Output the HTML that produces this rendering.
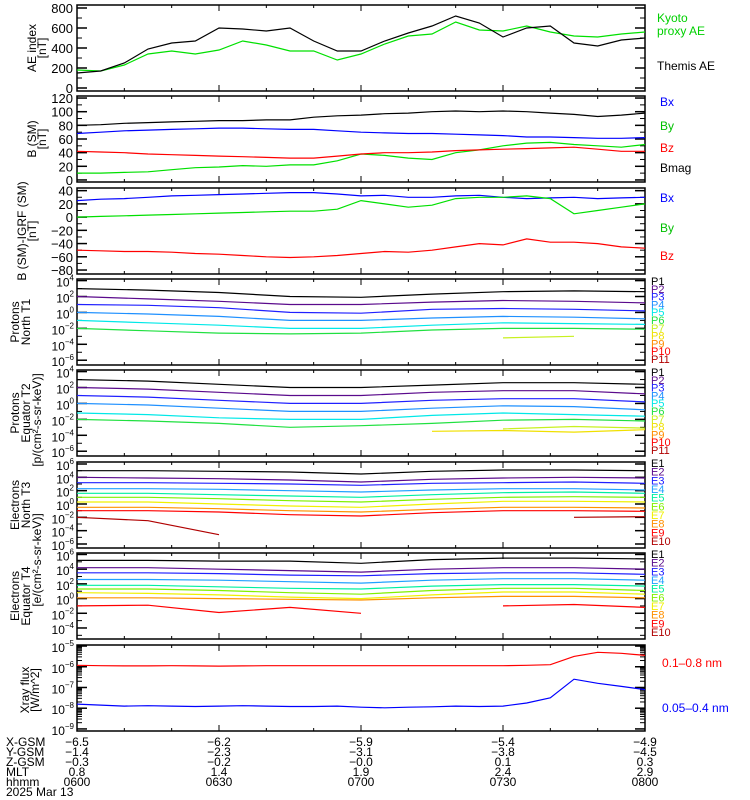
<!DOCTYPE html>
<html><head><meta charset="utf-8"><style>
html,body{margin:0;padding:0;background:#fff}
svg{display:block;font-family:"Liberation Sans",sans-serif}
</style></head><body>
<svg id="chart" width="750" height="800" viewBox="0 0 750 800" xmlns="http://www.w3.org/2000/svg"></svg>
<script>
// ---------- data ----------
const timeTicks = ["0600","0630","0700","0730","0800"];
const xgsm = ["-6.5","-6.2","-5.9","-5.4","-4.9"];
const ygsm = ["-1.4","-2.3","-3.1","-3.8","-4.5"];
const zgsm = ["-0.3","-0.2","-0.0","0.1","0.3"];
const mlt = ["0.8","1.4","1.9","2.4","2.9"];
// 5-minute samples 0600..0800
const aeThemis = [150,170,250,390,450,470,600,590,570,600,470,370,370,470,550,620,720,650,510,600,620,450,420,480,500];
const aeKyoto = [180,170,230,340,370,340,380,470,430,370,370,280,340,440,520,540,660,580,570,620,560,520,510,540,560];
const bBmag = [80,81,83,84,85,86,87,87,88,88,92,94,95,97,98,100,101,100,101,100,98,96,93,95,98];
const bBx = [68,70,72,73,74,75,76,76,75,74,74,72,70,69,68,68,67,66,65,63,63,62,61,61,62];
const bBy = [10,10,11,12,15,18,19,21,20,22,22,28,38,36,32,30,40,44,50,54,55,52,50,48,52];
const bBz = [42,41,40,38,37,36,35,34,33,32,32,35,38,40,40,41,43,44,45,46,47,48,45,42,42];
const dBx = [25,27,28,30,32,33,34,35,36,37,37,35,32,33,30,30,32,33,30,28,29,30,28,29,30];
const dBy = [0,1,2,3,4,5,6,7,8,9,9,12,25,20,15,18,28,30,30,32,28,5,10,15,20];
const dBz = [-50,-51,-52,-52,-53,-55,-56,-58,-60,-61,-60,-58,-55,-52,-53,-50,-45,-40,-42,-33,-38,-38,-40,-45,-47];
const xrayLong = [-5.93,-5.95,-5.96,-5.96,-5.95,-5.96,-5.97,-5.96,-5.95,-5.95,-5.95,-5.95,-5.95,-5.95,-5.95,-5.95,-5.95,-5.95,-5.95,-5.93,-5.9,-5.5,-5.3,-5.35,-5.45];
const xrayShort = [-7.8,-7.85,-7.9,-7.88,-7.9,-7.92,-7.9,-7.88,-7.9,-7.92,-7.92,-7.9,-7.95,-7.98,-7.95,-7.93,-7.9,-7.92,-7.9,-7.75,-7.5,-6.6,-6.8,-6.95,-7.1];
// 15-minute samples (log10 flux)
const protonsNorth = [
 [3,2.8,2.5,2,1.9,2.3,2.6,2.7,2.6],
 [2,1.7,1.4,1,1,1.3,1.5,1.4,1.2],
 [1,0.9,0.6,0,-0.1,0.4,0.5,0.4,0.2],
 [0,-0.2,-0.5,-1,-1,-0.7,-0.5,-0.6,-0.8],
 [-1,-1.3,-1.6,-2,-2,-1.6,-1.3,-1.4,-1.5],
 [-2,-2.3,-2.6,-2.7,-2.6,-2.2,-2,-2,-2.1],
 [null,null,null,null,null,null,-3.2,-3.0,null]
];
const protonsEq = [
 [3,2.8,2.4,2,2,2.3,2.6,2.6,2.4],
 [2,1.8,1.4,1,1,1.4,1.6,1.6,1.2],
 [1,0.8,0.4,0,0,0.4,0.6,0.6,0.2],
 [0,-0.2,-0.6,-1,-1,-0.6,-0.3,-0.4,-0.8],
 [-1.2,-1.4,-1.8,-2,-2,-1.5,-1.2,-1.4,-1.6],
 [-2,-2.2,-2.5,-3,-2.8,-2.5,-2.1,-2,-2.2],
 [null,null,null,null,null,null,-3.2,-2.9,-3.1],
 [null,null,null,null,null,-3.5,-3.4,-3.6,-3.3]
];
const electronsNorth = [
 [5,5,4.9,4.8,4.5,4.9,5.1,5.1,5],
 [4,3.9,3.8,3.6,3.3,3.7,3.9,4,3.9],
 [3.2,3.2,3.1,3,2.8,3.1,3.2,3.3,3.1],
 [2.3,2.3,2.2,2,1.8,2.1,2.3,2.3,2.1],
 [1.6,1.6,1.4,1.2,1,1.4,1.7,1.8,1.6],
 [1,1,0.8,0.5,0.3,0.7,1,1.1,1],
 [0.3,0.3,0,-0.3,-0.5,0,0.4,0.4,0.3],
 [-0.5,-0.5,-0.7,-1,-1.2,-0.8,-0.5,-0.5,-0.6],
 [-1,-1,-1.2,-1.6,-1.8,-1.3,-1,-1,-1.1],
 [-2,-2.5,-4.6,null,null,null,null,-2,-1.9]
];
const electronsEq = [
 [5.2,5.2,5.1,5.1,4.8,5.3,5.5,5.5,5.4],
 [4.2,4.2,4,3.8,3.6,4,4.2,4.2,4],
 [3.5,3.5,3.4,3.2,3.1,3.4,3.5,3.5,3.3],
 [2.6,2.6,2.5,2.3,2.1,2.5,2.7,2.7,2.5],
 [1.8,1.8,1.6,1.4,1.3,1.7,1.9,1.9,1.7],
 [1.3,1.3,1.1,0.8,0.6,1.1,1.4,1.4,1.1],
 [0.8,0.7,0.5,0.2,0,0.5,0.9,0.9,0.6],
 [0.1,0.1,0,-0.1,-0.2,0.1,0.3,0.3,0.1],
 [-1,-0.9,-1.9,-1.2,-2,null,-1,-0.8,-1.2]
];
const pColors = ["#000","#5a0a8c","#2020ff","#1e90ff","#00e8e8","#20e040","#c8f020","#f0e000","#ff8c00","#ff0000","#b00000"];
const eColors = ["#000","#5a0a8c","#2020ff","#20a0ff","#00f0a0","#80f000","#f0f000","#ff9000","#ff0000","#b00000"];

// ---------- helpers ----------
const NS="http://www.w3.org/2000/svg";
const svg=document.getElementById('chart');
const X0=77,X1=645;
function xm(min){return X0+min/120*(X1-X0);}
function mk(tag,attrs,parent){const e=document.createElementNS(NS,tag);for(const k in attrs)e.setAttribute(k,attrs[k]);(parent||svg).appendChild(e);return e;}
function yf(p,v){return p.top+p.h*(p.max-v)/(p.max-p.min);}
function line(p,vals,step,color,name){
  let d="",pen=false;
  vals.forEach((v,i)=>{if(v===null){pen=false;return;}d+=(pen?"L":"M")+xm(i*step).toFixed(1)+","+yf(p,v).toFixed(1);pen=true;});
  const e=mk('path',{d:d,fill:'none',stroke:color,'stroke-width':1.2});
  
  
}
function txt(x,y,s,attrs,name){const e=mk('text',Object.assign({x:x,y:y,'font-size':12},attrs||{}));e.textContent=s;
  
  return e;}
function pow10(x,y,exp,name){const e=mk('text',{x:x,y:y,'font-size':12,'text-anchor':'end'});
  
  
  const a=document.createElementNS(NS,'tspan');a.textContent="10";e.appendChild(a);
  const b=document.createElementNS(NS,'tspan');b.setAttribute('dy','-6');b.setAttribute('font-size','8');b.textContent=exp.replace('-','\u2212');e.appendChild(b);}
function frame(p,name){
  const r=mk('rect',{x:X0,y:p.top,width:X1-X0,height:p.h,fill:'none',stroke:'#000','stroke-width':1.5});
  
  
  for(let m=0;m<=120;m+=10){const L=m%30===0?6:3;const x=xm(m);
    mk('line',{x1:x,x2:x,y1:p.top,y2:p.top+L,stroke:'#000'});
    mk('line',{x1:x,x2:x,y1:p.top+p.h,y2:p.top+p.h-L,stroke:'#000'});}
}
function yticks(p,vals,minor,log,name){
  vals.forEach(v=>{const y=yf(p,v);
    mk('line',{x1:X0,x2:X0+10,y1:y,y2:y,stroke:'#000','stroke-width':1.5});
    mk('line',{x1:X1,x2:X1-10,y1:y,y2:y,stroke:'#000','stroke-width':1.5});
    if(log)pow10(74,y+6,String(v),name+'-tick');else txt(73,y+5,String(v).replace('-','\u2212'),{'text-anchor':'end','font-size':13},name+'-tick');});
  (minor||[]).forEach(v=>{const y=yf(p,v);
    mk('line',{x1:X0,x2:X0+5,y1:y,y2:y,stroke:'#000'});mk('line',{x1:X1,x2:X1-5,y1:y,y2:y,stroke:'#000'});});
}
function ytitle(lines,cy,xs,name){lines.forEach((s,i)=>{txt(0,0,s,{'text-anchor':'middle','font-size':12,transform:`translate(${xs[i]},${cy}) rotate(-90)`},name);});}
const tops=[5,96,188,279,370,462,553,645];
const P=tops.map(t=>({top:t,h:86}));

// Panel 1 AE
const p1=Object.assign(P[0],{min:-30,max:830});
frame(p1,'ae-panel');yticks(p1,[0,200,400,600,800],[100,300,500,700],false,'ae');
line(p1,aeKyoto,5,'#00e000','kyoto-ae-line');line(p1,aeThemis,5,'#000','themis-ae-line');
ytitle(["AE index","[nT]"],48,[36,46],'ae-axis-title');
txt(657,22,"Kyoto",{fill:'#00d000'},'legend-kyoto');txt(657,35,"proxy AE",{fill:'#00d000'},'legend-kyoto');
txt(657,70,"Themis AE",{fill:'#000'},'legend-themis');

// Panel 2 B
const p2=Object.assign(P[1],{min:-3,max:123});
frame(p2,'b-panel');yticks(p2,[0,20,40,60,80,100,120],[10,30,50,70,90,110],false,'b');
line(p2,bBmag,5,'#000','bmag-line');line(p2,bBx,5,'#0000ff','bx-line');line(p2,bBy,5,'#00e000','by-line');line(p2,bBz,5,'#ff0000','bz-line');
ytitle(["B (SM)","[nT]"],139,[36,46],'b-axis-title');
txt(660,106,"Bx",{fill:'#0000ff'},'legend-bx');txt(660,130,"By",{fill:'#00c000'},'legend-by');
txt(660,152,"Bz",{fill:'#ff0000'},'legend-bz');txt(660,172,"Bmag",{fill:'#000'},'legend-bmag');

// Panel 3 dB
const p3=Object.assign(P[2],{min:-86,max:44});
frame(p3,'db-panel');yticks(p3,[40,20,0,-20,-40,-60,-80],[30,10,-10,-30,-50,-70],false,'db');
line(p3,dBx,5,'#0000ff','dbx-line');line(p3,dBy,5,'#00e000','dby-line');line(p3,dBz,5,'#ff0000','dbz-line');
ytitle(["B (SM)-IGRF (SM)","[nT]"],231,[26,36],'db-axis-title');
txt(660,202,"Bx",{fill:'#0000ff'},'legend-dbx');txt(660,232,"By",{fill:'#00c000'},'legend-dby');txt(660,260,"Bz",{fill:'#ff0000'},'legend-dbz');

function logPanel(p,labels,allDec,data,colors,prefix,count,legendTop,name){
  frame(p,name);
  yticks(p,labels,allDec.filter(d=>!labels.includes(d)),true,name);
  data.forEach((s,i)=>line(p,s,15,colors[i],name+'-'+prefix.toLowerCase()+(i+1)));
  for(let i=0;i<count;i++)txt(651,legendTop+8+i*(78/(count-1)),prefix+(i+1),{fill:colors[i],'font-size':11},'legend-'+prefix.toLowerCase()+(i+1));
}
const p4=Object.assign(P[3],{min:-6.6,max:4.2});
logPanel(p4,[4,2,0,-2,-4,-6],[3,1,-1,-3,-5],protonsNorth,pColors,'P',11,277,'protons-north');
ytitle(["Protons","North T1"],322,[19,30],'protons-north-title');
const p5=Object.assign(P[4],{min:-6.6,max:4.2});
logPanel(p5,[4,2,0,-2,-4,-6],[3,1,-1,-3,-5],protonsEq,pColors,'P',11,368,'protons-equator');
ytitle(["Protons","Equator T2"],413,[19,30],'protons-equator-title');
ytitle(["[p/(cm\u00b2-s-sr-keV)]"],420,[41],'protons-unit');
const p6=Object.assign(P[5],{min:-6.6,max:6.3});
logPanel(p6,[6,4,2,0,-2,-4,-6],[5,3,1,-1,-3,-5],electronsNorth,eColors,'E',10,459,'electrons-north');
ytitle(["Electrons","North T3"],505,[19,30],'electrons-north-title');
const p7=Object.assign(P[6],{min:-5.5,max:6.2});
logPanel(p7,[6,4,2,0,-2,-4],[5,3,1,-1,-3,-5],electronsEq,eColors,'E',10,550,'electrons-equator');
ytitle(["Electrons","Equator T4"],596,[19,30],'electrons-equator-title');
ytitle(["[e/(cm\u00b2-s-sr-keV)]"],560,[41],'electrons-unit');

// Panel 8 xray
const p8=Object.assign(P[7],{min:-9.1,max:-4.95});
frame(p8,'xray-panel');
const xrayMinor=[];for(let d=-9;d<-5;d++)for(let k=2;k<10;k++)xrayMinor.push(d+Math.log10(k));
yticks(p8,[-5,-6,-7,-8,-9],xrayMinor,true,'xray');
line(p8,xrayLong,5,'#ff0000','xray-long-line');line(p8,xrayShort,5,'#0000ff','xray-short-line');
ytitle(["Xray flux","[W/m^2]"],690,[29,39],'xray-axis-title');
txt(662,667,"0.1\u20130.8 nm",{fill:'#ff0000'},'legend-xray-long');
txt(662,712,"0.05\u20130.4 nm",{fill:'#0000ff'},'legend-xray-short');

// Bottom labels
const rows=[["X-GSM",xgsm],["Y-GSM",ygsm],["Z-GSM",zgsm],["MLT",mlt],["hhmm",timeTicks]];
rows.forEach((r,i)=>{const y=746+i*10;txt(6,y,r[0],{'font-size':12},'row-label-'+r[0].toLowerCase());
  r[1].forEach((v,j)=>txt(xm(j*30),y,v.replace('-','\u2212'),{'text-anchor':'middle','font-size':12},'row-value'));});
txt(6,796,"2025 Mar 13",{'font-size':12},'date-label');
</script>
</body></html>
